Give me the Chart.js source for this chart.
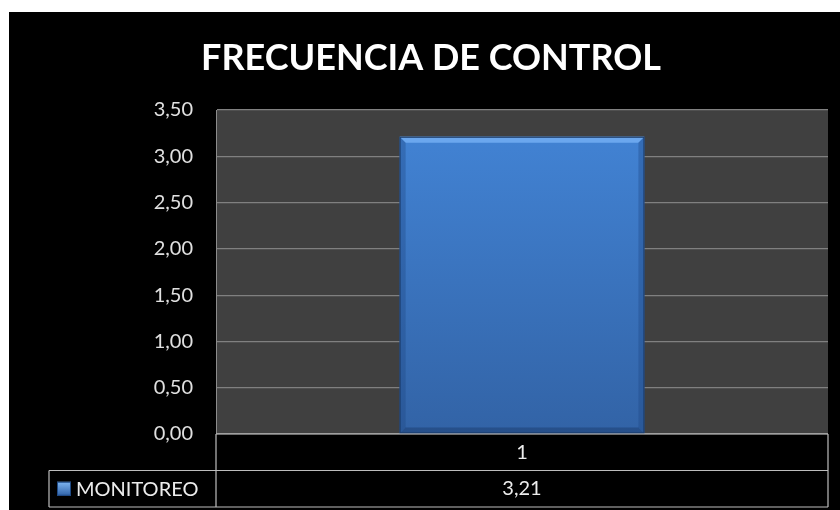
<!DOCTYPE html>
<html>
<head>
<meta charset="utf-8">
<script src="https://cdn.jsdelivr.net/npm/chart.js@4.4.1/dist/chart.umd.min.js"></script>
<style>
  html, body { margin: 0; padding: 0; background: #fff; }
  #wrap { width: 840px; height: 510px; }
</style>
</head>
<body>
<div id="wrap"><canvas id="freqChart" width="840" height="510"></canvas></div>
<script>
const chartTitle = 'FRECUENCIA DE CONTROL';
const categories = ['1'];
const seriesName = 'MONITOREO';
const monitoreo = [3.21];
const yMin = 0;
const yMax = 3.5;
const yStep = 0.5;

function fmt(v) {
    return v.toFixed(2).replace('.', ',');
}

// black frame + dark plot area
const backdrop = {
    id: 'backdrop',
    beforeDraw(chart) {
        const ctx = chart.ctx;
        const a = chart.chartArea;
        ctx.save();
        ctx.fillStyle = '#ffffff';
        ctx.fillRect(0, 0, chart.width, chart.height);
        ctx.fillStyle = '#000000';
        ctx.fillRect(9, 12, chart.width - 9, chart.height - 12);
        ctx.fillStyle = '#404040';
        ctx.fillRect(a.left, a.top, a.right - a.left, a.bottom - a.top);
        ctx.restore();
    }
};

// title is drawn by hand so it can sit a bit right of the canvas centre, like the original
const titleText = {
    id: 'titleText',
    afterDraw(chart) {
        const ctx = chart.ctx;
        ctx.save();
        ctx.fillStyle = '#ffffff';
        ctx.font = 'bold 36px Lato';
        ctx.textAlign = 'center';
        ctx.textBaseline = 'alphabetic';
        ctx.fillText(chartTitle, 431, 70);
        ctx.restore();
    }
};

// bevel on the bars
const bevel = {
    id: 'bevel',
    afterDatasetsDraw(chart) {
        const ctx = chart.ctx;
        chart.getDatasetMeta(0).data.forEach(bar => {
            const l = bar.x - bar.width / 2;
            const r = bar.x + bar.width / 2;
            const t = bar.y;
            const b = bar.base;
            const d = 6;
            ctx.save();
            // top edge
            ctx.fillStyle = '#6ba7ee';
            ctx.beginPath();
            ctx.moveTo(l, t); ctx.lineTo(r, t); ctx.lineTo(r - d, t + d); ctx.lineTo(l + d, t + d);
            ctx.closePath(); ctx.fill();
            // sides
            ctx.fillStyle = 'rgba(30,70,130,0.35)';
            ctx.beginPath();
            ctx.moveTo(l, t); ctx.lineTo(l + d, t + d); ctx.lineTo(l + d, b - d); ctx.lineTo(l, b);
            ctx.closePath(); ctx.fill();
            ctx.beginPath();
            ctx.moveTo(r, t); ctx.lineTo(r - d, t + d); ctx.lineTo(r - d, b - d); ctx.lineTo(r, b);
            ctx.closePath(); ctx.fill();
            // bottom
            ctx.fillStyle = 'rgba(25,55,105,0.45)';
            ctx.beginPath();
            ctx.moveTo(l, b); ctx.lineTo(l + d, b - d); ctx.lineTo(r - d, b - d); ctx.lineTo(r, b);
            ctx.closePath(); ctx.fill();
            ctx.strokeStyle = 'rgba(25,55,100,0.9)';
            ctx.lineWidth = 1;
            ctx.strokeRect(l + 0.5, t + 0.5, r - l - 1, b - t - 1);
            ctx.restore();
        });
    }
};

// data table under the plot
const dataTable = {
    id: 'dataTable',
    afterDraw(chart) {
        const ctx = chart.ctx;
        const a = chart.chartArea;
        const xs = chart.scales.x;
        const rowH = 36.5;
        const legendLeft = 49;
        const r1 = a.bottom, r2 = a.bottom + rowH, r3 = a.bottom + rowH * 2;
        ctx.save();
        ctx.strokeStyle = '#bdbdbd';
        ctx.lineWidth = 1.2;
        ctx.beginPath();
        ctx.moveTo(a.left, r1); ctx.lineTo(a.right, r1);
        ctx.moveTo(legendLeft, r2); ctx.lineTo(a.right, r2);
        ctx.moveTo(legendLeft, r3); ctx.lineTo(a.right, r3);
        ctx.moveTo(a.left, r1); ctx.lineTo(a.left, r3);
        ctx.moveTo(a.right, r1); ctx.lineTo(a.right, r3);
        ctx.moveTo(legendLeft, r2); ctx.lineTo(legendLeft, r3);
        ctx.stroke();

        ctx.fillStyle = '#ececec';
        ctx.font = '20px Lato';
        ctx.textAlign = 'center';
        ctx.textBaseline = 'middle';
        chart.data.labels.forEach((lab, i) => {
            const cx = xs.getPixelForValue(i);
            ctx.fillText(lab, cx, (r1 + r2) / 2);
            ctx.fillText(fmt(chart.data.datasets[0].data[i]), cx, (r2 + r3) / 2);
        });

        // legend key
        const ky = (r2 + r3) / 2;
        const g = ctx.createLinearGradient(0, ky - 7, 0, ky + 7);
        g.addColorStop(0, '#7fb6f2');
        g.addColorStop(1, '#2f62a8');
        ctx.fillStyle = g;
        ctx.fillRect(57, ky - 7, 14, 14);
        ctx.strokeStyle = '#1f4a85';
        ctx.lineWidth = 1;
        ctx.strokeRect(57.5, ky - 6.5, 13, 13);
        ctx.fillStyle = '#ececec';
        ctx.font = '20px Lato';
        ctx.textAlign = 'left';
        ctx.fillText(chart.data.datasets[0].label, 76, ky + 1);
        ctx.restore();
    }
};

Chart.defaults.font.family = 'Lato';

const ctx = document.getElementById('freqChart').getContext('2d');
const chart = new Chart(ctx, {
    type: 'bar',
    data: {
        labels: categories,
        datasets: [{
            label: seriesName,
            data: monitoreo,
            backgroundColor: c => {
                const a = c.chart.chartArea;
                if (!a) return '#3c78c4';
                const g = c.chart.ctx.createLinearGradient(0, a.top, 0, a.bottom);
                g.addColorStop(0, '#4385d7');
                g.addColorStop(1, '#3263a6');
                return g;
            },
            borderWidth: 0,
            categoryPercentage: 1,
            barPercentage: 0.4
        }]
    },
    options: {
        responsive: false,
        animation: false,
        layout: { padding: { left: 0, right: 12, top: 110, bottom: 76 } },
        plugins: {
            legend: { display: false },
            tooltip: { enabled: false },
            title: { display: false }
        },
        scales: {
            x: { display: false },
            y: {
                min: yMin,
                max: yMax,
                afterFit: s => { s.width = 216; },
                ticks: {
                    stepSize: yStep,
                    color: '#e0e0e0',
                    font: { size: 20 },
                    padding: 23,
                    callback: v => fmt(v)
                },
                grid: { color: '#808080', lineWidth: 1.2, drawTicks: false },
                border: { display: true, color: '#8c8c8c' }
            }
        }
    },
    plugins: [backdrop, bevel, dataTable, titleText]
});
</script>
</body>
</html>
